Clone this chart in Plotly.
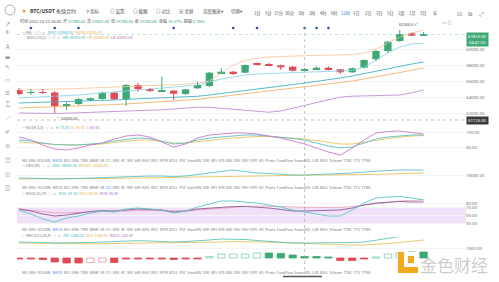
import plotly.graph_objects as go

W, H = 499, 282

# ---------------- data ----------------
IDX = list(range(35))
OPEN = [54875, 54500, 54625, 54560, 52875, 53125, 53590, 53750, 54540, 53710, 55500, 55000, 54750, 54790, 54375,
        55090, 55375, 56960, 57160, 57040, 58190, 58090, 57960, 57790, 57290, 57460, 57660, 57460, 57090, 57660,
        58710, 59750, 61000, 61960, 61750]
CLOSE = [54375, 54625, 54500, 52875, 53060, 53750, 53840, 54540, 53710, 55500, 55000, 54750, 54840, 54410, 54960,
         55500, 57040, 57160, 56960, 58000, 58060, 57960, 57710, 57290, 57500, 57660, 57460, 57090, 57590, 58625,
         59750, 60910, 61875, 61660, 61810]
HIGH = [55125, 55000, 55000, 54750, 53375, 53875, 53940, 54625, 54625, 55625, 55750, 55125, 56540, 54875, 55000,
        55910, 57125, 57590, 57250, 58060, 58310, 58250, 58060, 57875, 57625, 57810, 57810, 57500, 57690, 58690,
        59875, 61000, 62500, 62060, 62125]
LOW = [54250, 54250, 54375, 52000, 52375, 53000, 53500, 53625, 53625, 52875, 54660, 54625, 54625, 53625, 54250,
       55000, 55250, 56875, 56750, 57000, 57940, 57875, 57375, 57190, 57190, 57375, 57310, 56875, 57000, 57560,
       58500, 59500, 60875, 61625, 61625]

MA_FAST = [53875, 53940, 54000, 54060, 54125, 54250, 54375, 54500, 54625, 54750, 54875, 55000, 55125, 55250, 55375,
           55500, 55875, 56250, 56500, 56750, 56875, 56940, 57000, 57000, 57060, 57125, 57190, 57250, 57310, 57750,
           58625, 59500, 60250, 60625, 60750]
MA_MID = [53250, 53290, 53310, 53340, 53375, 53440, 53500, 53575, 53625, 53710, 53775, 53825, 53875, 53925, 54000,
          54090, 54250, 54425, 54600, 54800, 55000, 55175, 55350, 55550, 55750, 55940, 56150, 56375, 56625, 56940,
          57250, 57550, 57840, 58125, 58375]
MA_LOW = [52625, 52675, 52710, 52750, 52775, 52840, 52900, 52975, 53050, 53125, 53210, 53300, 53400, 53500, 53600,
          53710, 53875, 54050, 54225, 54400, 54575, 54750, 54940, 55125, 55310, 55475, 55625, 55800, 56000, 56250,
          56500, 56775, 57060, 57350, 57625]
MA_SLOW = [52000, 51960, 51940, 51940, 51975, 52025, 52060, 52100, 52150, 52190, 52250, 52325, 52400, 52500, 52625,
           52725, 52710, 52600, 52475, 52325, 52190, 52100, 52250, 52560, 52940, 53310, 53690, 53975, 54100, 54150,
           54175, 54210, 54250, 54525, 54875]
BAND_UP = [54875, 54900, 54940, 54975, 55010, 55060, 55125, 55190, 55250, 55310, 55375, 55425, 55460, 55500, 55600,
           55750, 56000, 57000, 58000, 58560, 58840, 59000, 59075, 59125, 59160, 59200, 59225, 59250, 59290, 59500,
           60000, 60750, 61500, 62000, 62375]

K_VAL = [73.3, 70.0, 63.3, 58.3, 56.7, 56.7, 60.0, 63.3, 70.0, 75.0, 80.0, 78.3, 70.0, 60.0, 63.3, 73.3, 80.0, 83.3,
         86.7, 90.0, 90.0, 86.7, 83.3, 78.3, 73.3, 63.3, 53.3, 46.7, 50.0, 63.3, 76.7, 83.3, 86.7, 90.0, 90.0]
D_VAL = [66.7, 65.0, 61.7, 58.3, 56.7, 56.7, 58.3, 60.0, 65.0, 70.0, 73.3, 73.3, 68.3, 63.3, 63.3, 68.3, 73.3, 76.7,
         80.0, 83.3, 85.0, 85.0, 83.3, 80.0, 76.7, 71.7, 65.0, 60.0, 60.0, 65.0, 71.7, 78.3, 83.3, 86.7, 88.3]
J_VAL = [83.3, 73.3, 56.7, 43.3, 40.0, 46.7, 56.7, 63.3, 76.7, 86.7, 90.0, 83.3, 66.7, 50.0, 60.0, 80.0, 90.0, 93.3,
         96.7, 96.7, 93.3, 86.7, 80.0, 70.0, 60.0, 46.7, 33.3, 23.3, 46.7, 73.3, 96.7, 101.7, 103.3, 98.3, 93.3]

OBV = [17700, 17700, 17650, 17600, 17600, 17650, 17700, 17750, 17750, 17850, 17900, 17900, 17900, 17850, 17900,
       18050, 18200, 18400, 18500, 18350, 18200, 18150, 18050, 18000, 18000, 18050, 18100, 18100, 18200, 18300,
       18400, 18450, 18500, 18500, 18500]
MAOBV = [17600, 17600, 17600, 17600, 17600, 17600, 17620, 17640, 17660, 17680, 17700, 17720, 17740, 17760, 17780,
         17800, 17840, 17880, 17920, 17950, 17970, 17980, 17990, 18000, 18000, 18000, 18000, 18000, 18020, 18040,
         18070, 18100, 18140, 18170, 18200]

RSI1 = [62.5, 52.5, 40.0, 32.5, 42.5, 47.5, 55.0, 60.0, 57.5, 65.0, 67.5, 65.0, 62.5, 55.0, 60.0, 70.0, 77.5, 85.0,
        85.0, 82.5, 80.0, 75.0, 70.0, 62.5, 57.5, 52.5, 47.5, 47.5, 62.5, 80.0, 92.5, 95.0, 96.2, 92.5, 87.5]
RSI2 = [65.0, 60.0, 52.5, 47.5, 50.0, 55.0, 58.8, 61.2, 60.0, 62.5, 65.0, 63.8, 62.5, 57.5, 60.0, 65.0, 67.5, 70.0,
        71.2, 71.2, 70.0, 67.5, 63.8, 60.0, 60.0, 61.2, 62.5, 62.5, 67.5, 75.0, 80.0, 82.5, 83.8, 82.5, 82.5]
RSI3 = [65.0, 62.5, 58.8, 55.0, 55.0, 56.2, 57.5, 58.8, 58.8, 60.0, 61.2, 61.2, 61.2, 60.0, 60.0, 62.5, 65.0, 67.5,
        70.0, 71.2, 72.5, 72.5, 71.2, 70.0, 68.8, 68.8, 68.8, 68.8, 71.2, 75.0, 78.8, 82.5, 85.0, 86.2, 87.5]

DIF = [1600, 1600, 1550, 1500, 1500, 1500, 1550, 1600, 1650, 1700, 1730, 1700, 1650, 1600, 1650, 1700, 1800, 1900,
       1900, 1850, 1750, 1650, 1550, 1500, 1500, 1500, 1500, 1500, 1550, 1600, 1800, 2000, 2150, 2250, 2300]
DEA = [1500, 1500, 1500, 1480, 1450, 1430, 1420, 1430, 1450, 1470, 1500, 1500, 1500, 1500, 1500, 1520, 1550, 1600,
       1650, 1650, 1620, 1580, 1540, 1500, 1450, 1400, 1350, 1300, 1300, 1300, 1350, 1450, 1550, 1700, 1800]
HIST = [-100, -100, -150, -400, -500, -500, -450, -400, -450, -100, -100, -100, -100, -150, -100, -100, 150, 400,
        400, 400, 500, 500, 450, 300, 150, 150, 100, -250, -250, -100, 100, 400, 500, 600, 600]
HIST_HOLLOW = [0, 0, 0, 0, 0, 0, 1, 1, 0, 0, 0, 0, 0, 0, 0, 0, 1, 1, 1, 1, 1, 0, 0, 0, 0, 0, 0, 0, 0, 0, 1, 1, 1, 0, 0]

EVENT_IDX = [1, 3, 5, 13, 18, 20, 24, 25, 26]
CROSS_IDX = 24
CROSS_PRICE = 51125

PRICE_TICKS = [52000, 54000, 56000, 58000, 60000]
KDJ_TICKS = [50, 100]
OBV_TICKS = [18000]
RSI_TICKS = [30, 50, 70, 80]
MACD_TICKS = [1000]

INTERVALS = ["1分", "5分", "15分", "30分", "1时", "2时", "4时", "6时", "12时", "1日", "2日", "3日", "5日", "1周",
             "1月", "3月", "年"]
TABS = ["MA", "EMA", "VOLUME", "MACD", "KDJ", "DMA", "TRIX", "BRAR", "VR", "CCI", "EMV", "KC", "WR", "SAR", "BIAS",
        "ROC", "MTM", "BOLL", "PSY", "StochRSI", "DMI", "MFI", "ATR", "BBI", "OBV", "EMV", "DPO", "AO", "Pivots",
        "FundFlow", "AroonADL", "LSR", "BIAS", "Tribune", "TTBC", "TTS", "TTMA"]

# ---------------- styling ----------------
GREEN = "#3fa877"
RED = "#de4c58"
C_TEAL = "#3db4c4"
C_YEL = "#e5b04a"
C_PUR = "#b168c4"
FONT = "Noto Sans CJK SC, Roboto, DejaVu Sans"


def px(x):
    return x / W


def py(y):
    return 1 - y / H


fig = go.Figure()

# ---- main panel lines ----
main_lines = [(BAND_UP, "#f6c9a4"), (MA_SLOW, "#c08fd6"), (MA_LOW, "#efb46a"), (MA_MID, "#45b3c2"),
              (MA_FAST, "#92d6e6")]
for arr, col in main_lines:
    fig.add_trace(go.Scatter(x=IDX, y=arr, mode="lines", line=dict(color=col, width=0.9), yaxis="y",
                             hoverinfo="skip"))

# ---- candles ----
up = [c >= o for o, c in zip(OPEN, CLOSE)]
cols = [GREEN if u else RED for u in up]
base = []
height = []
for o, c in zip(OPEN, CLOSE):
    lo_, hi_ = min(o, c), max(o, c)
    if hi_ - lo_ < 110:
        mid = (hi_ + lo_) / 2
        lo_, hi_ = mid - 55, mid + 55
    base.append(lo_)
    height.append(hi_ - lo_)

for flag, col in [(True, GREEN), (False, RED)]:
    wx, wy = [], []
    for i, u in enumerate(up):
        if u == flag:
            wx += [IDX[i], IDX[i], None]
            wy += [LOW[i], HIGH[i], None]
    fig.add_trace(go.Scatter(x=wx, y=wy, mode="lines", line=dict(color=col, width=1), yaxis="y",
                             hoverinfo="skip"))

fig.add_trace(go.Bar(x=IDX, y=height, base=base, width=0.62, marker=dict(color=cols, line=dict(width=0)),
                     yaxis="y", hoverinfo="skip"))

# event dots on top row
fig.add_trace(go.Scatter(x=EVENT_IDX, y=[0.5] * len(EVENT_IDX), mode="markers",
                         marker=dict(color="#2f4f8f", size=2.6), yaxis="y6", hoverinfo="skip"))

# ---- KDJ ----
for arr, col in [(D_VAL, "#e8c25e"), (K_VAL, "#5cc2c4"), (J_VAL, "#c77acd")]:
    fig.add_trace(go.Scatter(x=IDX, y=arr, mode="lines", line=dict(color=col, width=0.9), yaxis="y2",
                             hoverinfo="skip"))

# ---- OBV ----
for arr, col in [(MAOBV, "#e8c25e"), (OBV, "#5cc2c4")]:
    fig.add_trace(go.Scatter(x=IDX, y=arr, mode="lines", line=dict(color=col, width=0.9), yaxis="y3",
                             hoverinfo="skip"))

# ---- RSI ----
for arr, col in [(RSI3, "#eaa3bd"), (RSI2, "#8c5b9c"), (RSI1, "#5cc6c6")]:
    fig.add_trace(go.Scatter(x=IDX, y=arr, mode="lines", line=dict(color=col, width=0.9), yaxis="y4",
                             hoverinfo="skip"))

# ---- MACD ----
for arr, col in [(DEA, "#e8c25e"), (DIF, "#5cc6b8")]:
    fig.add_trace(go.Scatter(x=IDX, y=arr, mode="lines", line=dict(color=col, width=0.9), yaxis="y5",
                             hoverinfo="skip"))
hcol = [GREEN if v >= 0 else RED for v in HIST]
hfill = ["white" if h else c for h, c in zip(HIST_HOLLOW, hcol)]
hline = ["#7fcbb8" if (h and v >= 0) else ("#e89aa0" if h else c) for h, v, c in zip(HIST_HOLLOW, HIST, hcol)]
fig.add_trace(go.Bar(x=IDX, y=HIST, width=0.62, marker=dict(color=hfill, line=dict(color=hline, width=0.8)),
                     yaxis="y5", hoverinfo="skip"))

# ---------------- axes ----------------
tickfont = dict(size=4.4, color="#777", family="Roboto")
common = dict(side="right", anchor="x", showline=False, ticks="", zeroline=False, tickfont=tickfont,
              gridcolor="#f4f4f4", showgrid=True, fixedrange=True)


def tt(vals):
    return [f"{v:.2f}" for v in vals]


layout_axes = dict(
    xaxis=dict(domain=[px(17), px(465)], range=[-0.17, 37.48], showticklabels=False, showgrid=False,
               zeroline=False, showline=False, anchor="y"),
    yaxis=dict(domain=[py(121), py(24)], range=[51000, 63125], tickvals=PRICE_TICKS, ticktext=tt(PRICE_TICKS),
               **common),
    yaxis2=dict(domain=[py(157), py(129)], range=[16.67, 110], tickvals=KDJ_TICKS, ticktext=tt(KDJ_TICKS),
                **common),
    yaxis3=dict(domain=[py(183), py(167)], range=[17200, 18800], tickvals=OBV_TICKS, ticktext=tt(OBV_TICKS),
                **common),
    yaxis4=dict(domain=[py(227), py(196)], range=[20, 97.5], tickvals=RSI_TICKS, ticktext=tt(RSI_TICKS),
                **common),
    yaxis5=dict(domain=[py(268), py(237)], range=[-1000, 2100], tickvals=MACD_TICKS, ticktext=tt(MACD_TICKS),
                **common),
    yaxis6=dict(domain=[py(30), py(26)], range=[0, 1], visible=False, anchor="x", fixedrange=True),
)

shapes = []
ann = []


def text(x, y, s, size=4.6, color="#555", anchor="left", **kw):
    ann.append(dict(x=px(x), y=py(y), xref="paper", yref="paper", text=s, showarrow=False, xanchor=anchor,
                    yanchor="middle", font=dict(size=size, color=color, family=FONT), **kw))


# RSI band
shapes.append(dict(type="rect", xref="paper", yref="y4", x0=px(17), x1=px(466), y0=30, y1=70,
                   fillcolor="#f0e0f8", line=dict(width=0), layer="below"))
# crosshair
shapes.append(dict(type="line", xref="x", yref="paper", x0=CROSS_IDX, x1=CROSS_IDX, y0=py(270), y1=py(24),
                   line=dict(color="#9a9a9a", width=0.6, dash="dot")))
shapes.append(dict(type="line", xref="paper", yref="y", x0=px(17), x1=px(466), y0=CROSS_PRICE, y1=CROSS_PRICE,
                   line=dict(color="#9a9a9a", width=0.6, dash="dot")))
# last price line
shapes.append(dict(type="line", xref="paper", yref="y", x0=px(17), x1=px(466), y0=CLOSE[-1], y1=CLOSE[-1],
                   line=dict(color="#9ed4bb", width=0.6, dash="dot")))
# bottom slider underline
shapes.append(dict(type="line", xref="paper", yref="paper", x0=px(283), x1=px(322), y0=py(276.5), y1=py(276.5),
                   line=dict(color="#555", width=1.4)))
# logo
shapes.append(dict(type="circle", xref="paper", yref="paper", x0=px(5), x1=px(15), y0=py(15), y1=py(5),
                   line=dict(color="#999", width=0.8)))
shapes.append(dict(type="circle", xref="paper", yref="paper", x0=px(22.5), x1=px(25.5), y0=py(12.5), y1=py(9.5),
                   fillcolor="#f0a030", line=dict(width=0)))
# watermark logo
shapes.append(dict(type="rect", xref="paper", yref="paper", x0=px(398), x1=px(418), y0=py(273), y1=py(252),
                   fillcolor="#f3a91f", line=dict(width=0)))
shapes.append(dict(type="rect", xref="paper", yref="paper", x0=px(404), x1=px(418), y0=py(267), y1=py(252),
                   fillcolor="white", line=dict(width=0)))
shapes.append(dict(type="rect", xref="paper", yref="paper", x0=px(408), x1=px(414), y0=py(263), y1=py(256),
                   fillcolor="#f3a91f", line=dict(width=0)))

# ---- top bar ----
text(28, 11, "<b>BTC/USDT</b> 永续合约", size=5.0, color="#333")
tools = [(84, "⚲ 指标"), (108, "◎ 设置"), (131, "◎ 截图"), (154, "◎ 对比"), (177, "▣ 全屏"), (201, "深度图表▾"),
         (229, "切换▾")]
for x, s in tools:
    text(x, 11, s, size=4.5, color="#555")
for k, s in enumerate(INTERVALS):
    text(257 + 11.1 * k, 13, s, size=4.2, color="#2f6fd6" if k == 8 else "#555", anchor="center")
for x, s in [(459, "⊡"), (470, "⧉"), (481, "⤢")]:
    text(x, 13, s, size=6, color="#666", anchor="center")
text(447, 22, "▭ ⊙", size=4.6, color="#999", anchor="center")

# OHLC info line at crosshair
i = CROSS_IDX
chg = (CLOSE[i] - OPEN[i]) / OPEN[i] * 100
amp = (HIGH[i] - LOW[i]) / LOW[i] * 100
g = "#2fa36f"
info = (f"时间 2021-10-13 16:00  开 <span style='color:{g}'>{OPEN[i]:.2f}</span>  "
        f"高 <span style='color:{g}'>{HIGH[i]:.2f}</span>  低 <span style='color:{g}'>{LOW[i]:.2f}</span>  "
        f"收 <span style='color:{g}'>{CLOSE[i]:.2f}</span>  涨幅 <span style='color:{g}'>+{chg:.2f}%</span>  "
        f"振幅 <span style='color:{g}'>{amp:.2f}%</span>")
text(18, 21, info, size=4.1, color="#555")

LEG = 3.7
# legends
text(20, 32.5, f"— MA  ◎ ◇ ×   <span style='color:{C_TEAL}'>MA7: {MA_FAST[i]:.2f}</span>   "
               f"<span style='color:{C_YEL}'>MA30: {MA_MID[i]:.2f}</span>", size=LEG, color="#777")
text(25, 38, f"BOLL(20,2)  ◎ ◇ ×   <span style='color:{C_TEAL}'>MB: {MA_MID[i]:.2f}</span>  "
             f"<span style='color:{C_YEL}'>UP: {BAND_UP[i]:.2f}</span>  "
             f"<span style='color:{C_PUR}'>LB: {MA_LOW[i]:.2f}</span>", size=LEG, color="#777")
text(20, 127, f"— KDJ(9,3,3)  ◎ ×   <span style='color:{C_TEAL}'>K: {K_VAL[i]:.2f}</span>  "
              f"<span style='color:{C_YEL}'>D: {D_VAL[i]:.2f}</span>  "
              f"<span style='color:{C_PUR}'>J: {J_VAL[i]:.2f}</span>", size=LEG, color="#777")
text(20, 165.5, f"— OBV(30)  ◎ ×   <span style='color:{C_TEAL}'>OBV: {OBV[i]:.2f}</span>  "
                f"<span style='color:{C_YEL}'>MAOBV: {MAOBV[i]:.2f}</span>", size=LEG, color="#777")
text(20, 193, f"— RSI(6,12,24)  ◎ ×   <span style='color:{C_TEAL}'>RSI1: {RSI1[i]:.2f}</span>  "
              f"<span style='color:{C_YEL}'>RSI2: {RSI2[i]:.2f}</span>  "
              f"<span style='color:{C_PUR}'>RSI3: {RSI3[i]:.2f}</span>", size=LEG, color="#777")
text(20, 235, f"— MACD(12,26,9)  ◎ ×   <span style='color:{C_TEAL}'>DIF: {DIF[i]:.2f}</span>  "
              f"<span style='color:{C_YEL}'>DEA: {DEA[i]:.2f}</span>  "
              f"<span style='color:{C_PUR}'>MACD: {HIST[i]:.2f}</span>", size=LEG, color="#777")

# tab rows
for yrow, active in [(160, 3), (187, 9), (229, 3), (272, 3)]:
    parts = []
    for k, s in enumerate(TABS):
        parts.append(f"<span style='color:#3b7be0'>{s}</span>" if k == active else s)
    text(20, yrow, "  ".join(parts), size=3.5, color="#777")

# left toolbar
for yy, s in [(24, "↗"), (32, "✛"), (47, "A"), (57, "▬"), (67, "✎"), (80, "▭"), (93, "☰"), (104, "工"),
              (118, "⟋"), (132, "✐"), (146, "⊕"), (160, "▤"), (174, "◫"), (188, "▥")]:
    text(8, yy, s, size=5.5, color="#888", anchor="center")

# high / low labels
hi_i = max(IDX, key=lambda k: HIGH[k])
lo_i = min(IDX, key=lambda k: LOW[k])
ann.append(dict(x=hi_i, y=HIGH[hi_i], xref="x", yref="y", text=f"{HIGH[hi_i]:.1f} ↙", showarrow=False,
                xanchor="left", yanchor="bottom", xshift=-3, font=dict(size=4.0, color="#555", family=FONT)))
ann.append(dict(x=lo_i, y=LOW[lo_i], xref="x", yref="y", text=f"└ {LOW[lo_i]:.2f}", showarrow=False,
                xanchor="left", yanchor="top", xshift=-1, font=dict(size=4.0, color="#555", family=FONT)))

# price labels on the right
ann.append(dict(x=px(466), y=CLOSE[-1], xref="paper", yref="y", text=f"{CLOSE[-1]:.2f}<br>04:41:25",
                showarrow=False, xanchor="left", yanchor="top", yshift=3, bgcolor=GREEN, borderpad=1,
                font=dict(size=4.3, color="white", family="Roboto")))
ann.append(dict(x=px(466), y=CROSS_PRICE, xref="paper", yref="y", text=f"{CROSS_PRICE:.2f}", showarrow=False,
                xanchor="left", yanchor="middle", bgcolor="#3a3a3a", borderpad=1,
                font=dict(size=4.3, color="white", family="Roboto")))

# watermark
text(454, 264, "金色财经", size=17, color="rgba(140,140,140,0.45)", anchor="center")

fig.update_layout(
    width=W, height=H, margin=dict(l=0, r=0, t=0, b=0), paper_bgcolor="white", plot_bgcolor="white",
    showlegend=False, barmode="overlay", shapes=shapes, annotations=ann, **layout_axes,
)
fig.write_html("out.html")
